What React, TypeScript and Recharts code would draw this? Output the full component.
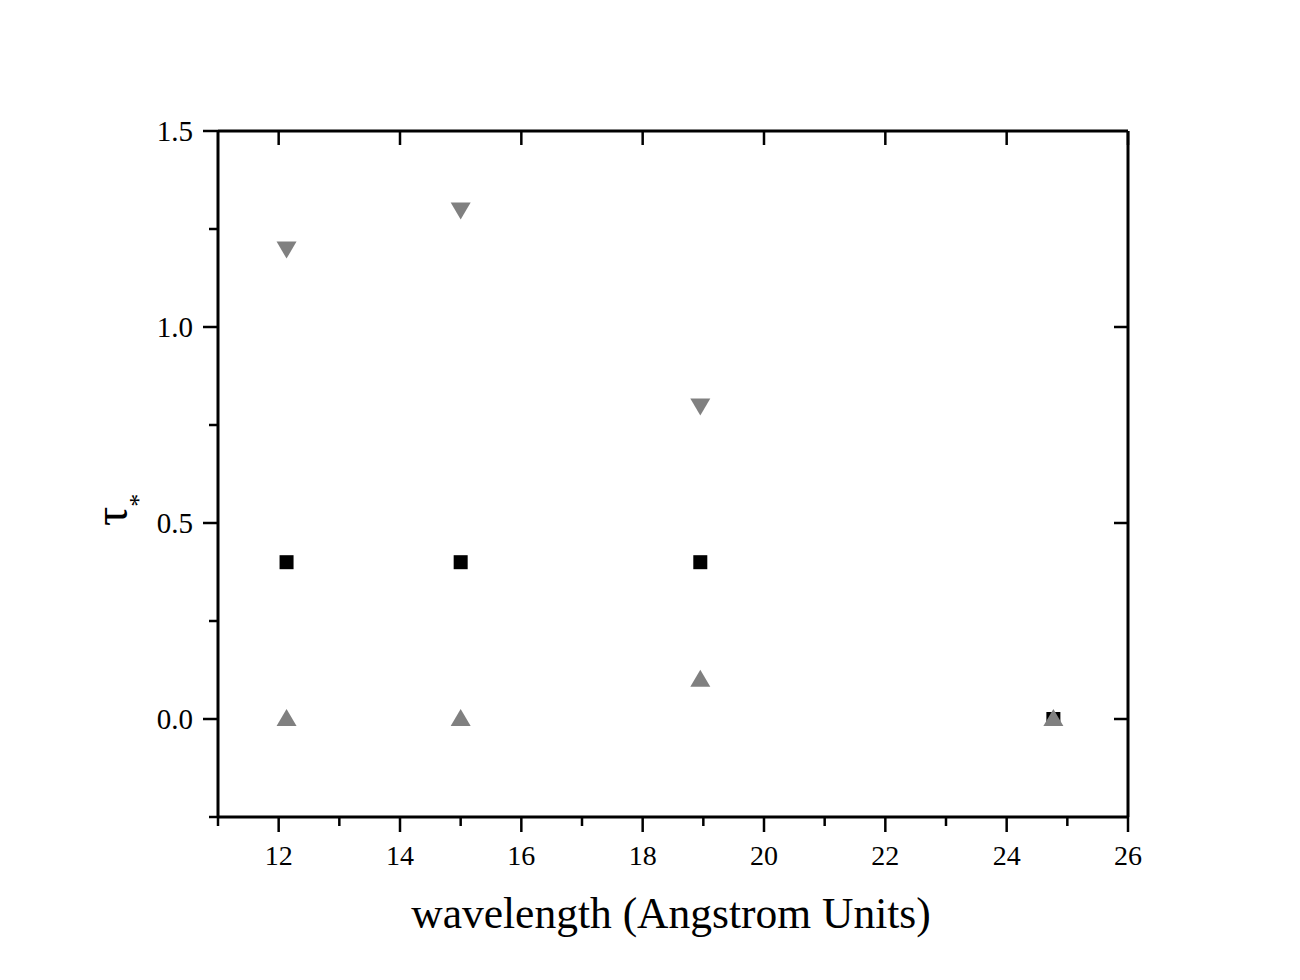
import React from "react";
import { ScatterChart, Scatter, XAxis, YAxis } from "recharts";

// values
const wavelengths = [12.13, 15.0, 18.95, 24.77];
const squareTau = [0.4, 0.4, 0.4, 0.0];
const downTau = [1.2, 1.3, 0.8];
const upTau = [0.0, 0.0, 0.1, 0.0];

const xTicks = [11, 12, 13, 14, 15, 16, 17, 18, 19, 20, 21, 22, 23, 24, 25, 26];
const xMajor = [12, 14, 16, 18, 20, 22, 24, 26];
const yTicks = [-0.25, 0, 0.25, 0.5, 0.75, 1.0, 1.25, 1.5];
const yMajor = [0, 0.5, 1.0];

const squares = squareTau.map((t, i) => ({ x: wavelengths[i], y: t }));
const downs = downTau.map((t, i) => ({ x: wavelengths[i], y: t }));
const ups = upTau.map((t, i) => ({ x: wavelengths[i], y: t }));

const FONT = "'Liberation Serif', 'Times New Roman', serif";
const GRAY = "#808080";

const BottomTick = (props: any) => {
  const { x, y, payload } = props;
  const v = payload.value;
  const major = v % 2 === 0;
  return (
    <g>
      <line x1={x} x2={x} y1={y} y2={y + (major ? 15 : 9)} stroke="#000" strokeWidth={2.5} />
      {major && (
        <text x={x} y={y + 48} textAnchor="middle" fontFamily={FONT} fontSize={28} fill="#000">
          {v}
        </text>
      )}
    </g>
  );
};

const LeftTick = (props: any) => {
  const { x, y, payload } = props;
  const v = payload.value;
  const major = Math.abs(v * 2 - Math.round(v * 2)) < 1e-9 && v >= 0;
  return (
    <g>
      <line x1={x - (major ? 15 : 9)} x2={x} y1={y} y2={y} stroke="#000" strokeWidth={2.5} />
      {major && (
        <text x={x - 25} y={y + 10} textAnchor="end" fontFamily={FONT} fontSize={29} fill="#000">
          {v.toFixed(1)}
        </text>
      )}
    </g>
  );
};

// inward ticks on the top and right frame, no labels
const TopTick = (props: any) => {
  const { x, y } = props;
  return <line x1={x} x2={x} y1={y} y2={y + 14} stroke="#000" strokeWidth={2.5} />;
};

const RightTick = (props: any) => {
  const { x, y } = props;
  return <line x1={x - 14} x2={x} y1={y} y2={y} stroke="#000" strokeWidth={2.5} />;
};

const Square = (props: any) => {
  const { cx, cy } = props;
  return <rect x={cx - 7} y={cy - 7} width={14} height={14} fill="#000" />;
};

const UpTri = (props: any) => {
  const { cx, cy } = props;
  return <path d={`M${cx},${cy - 10} L${cx + 10},${cy + 7} L${cx - 10},${cy + 7} Z`} fill={GRAY} />;
};

const DownTri = (props: any) => {
  const { cx, cy } = props;
  return <path d={`M${cx},${cy + 10} L${cx + 10},${cy - 7} L${cx - 10},${cy - 7} Z`} fill={GRAY} />;
};

export default function App() {
  const axisLine = { stroke: "#000", strokeWidth: 3 };
  return (
    <div style={{ position: "absolute", left: 0, top: 0, width: 1300, height: 980, background: "#fff" }}>
      <ScatterChart width={1300} height={980} margin={{ top: 130, right: 171, left: 0, bottom: 0 }}>
        <XAxis
          xAxisId="b"
          type="number"
          dataKey="x"
          domain={[11, 26]}
          ticks={xTicks}
          interval={0}
          allowDataOverflow
          height={163}
          tickSize={0}
          tickMargin={0}
          tickLine={false}
          axisLine={axisLine}
          tick={<BottomTick />}
        />
        <XAxis
          xAxisId="t"
          orientation="top"
          type="number"
          dataKey="x"
          domain={[11, 26]}
          ticks={xMajor}
          interval={0}
          allowDataOverflow
          height={1}
          tickSize={0}
          tickMargin={0}
          tickLine={false}
          axisLine={axisLine}
          tick={<TopTick />}
        />
        <YAxis
          yAxisId="l"
          type="number"
          dataKey="y"
          domain={[-0.25, 1.5]}
          ticks={yTicks}
          interval={0}
          allowDataOverflow
          width={218}
          tickSize={0}
          tickMargin={0}
          tickLine={false}
          axisLine={axisLine}
          tick={<LeftTick />}
        />
        <YAxis
          yAxisId="r"
          orientation="right"
          type="number"
          dataKey="y"
          domain={[-0.25, 1.5]}
          ticks={yMajor}
          interval={0}
          allowDataOverflow
          width={1}
          tickSize={0}
          tickMargin={0}
          tickLine={false}
          axisLine={axisLine}
          tick={<RightTick />}
        />
        <Scatter xAxisId="b" yAxisId="l" data={squares} shape={<Square />} isAnimationActive={false} />
        <Scatter xAxisId="t" yAxisId="r" data={downs} shape={<DownTri />} isAnimationActive={false} />
        <Scatter xAxisId="b" yAxisId="l" data={ups} shape={<UpTri />} isAnimationActive={false} />
      </ScatterChart>
      <svg width={1300} height={980} style={{ position: "absolute", left: 0, top: 0, pointerEvents: "none" }}>
        <text x={671} y={928} textAnchor="middle" fontFamily={FONT} fontSize={43.5} fill="#000">
          wavelength (Angstrom Units)
        </text>
        <text
          x={127}
          y={526}
          transform="rotate(-90, 127, 526)"
          textAnchor="start"
          fontFamily={FONT}
          fontSize={48}
          fill="#000"
        >
          τ
          <tspan dy={20} fontSize={26}>*</tspan>
        </text>
      </svg>
    </div>
  );
}
